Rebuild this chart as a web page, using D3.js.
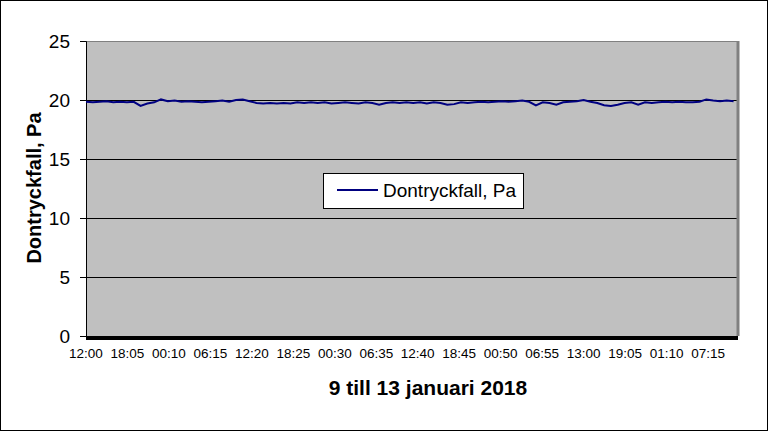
<!DOCTYPE html>
<html><head><meta charset="utf-8">
<script src="https://cdn.jsdelivr.net/npm/d3@7"></script>
<style>body{margin:0;background:#fff}svg{display:block;font-family:"Liberation Sans",Arial,sans-serif}</style>
</head><body><svg id="c" width="768" height="431"></svg>
<script>
// hourly readings from 9 Jan 2018 12:00
const startTime = new Date(2018,0,9,12,0);
const endTime = new Date(2018,0,13,11,30);
const values = [19.85,19.8,19.85,19.9,19.8,19.85,19.8,19.85,
 19.5,
 19.7,19.8,20.05,19.9,19.95,19.85,19.9,19.85,19.8,19.85,19.9,19.95,19.85,20.0,20.05,
 19.9,19.75,19.7,19.75,19.7,19.75,19.7,19.8,19.75,19.8,
 19.75,19.8,19.7,19.75,19.8,19.75,19.7,19.8,19.75,19.6,
 19.75,19.8,19.75,19.8,19.75,19.8,19.7,19.8,19.75,
 19.6,19.65,
 19.8,19.75,19.8,19.85,19.8,19.85,
 19.9,19.85,19.9,19.95,19.85,
 19.55,19.8,19.75,19.6,19.8,19.85,19.9,20.0,19.85,19.75,
 19.55,19.5,19.6,19.75,19.8,19.6,19.8,19.75,
 19.8,19.85,19.8,19.85,19.8,19.8,19.85,
 20.05,19.95,19.9,19.95,19.9];
const tickLabels = ["12:00","18:05","00:10","06:15","12:20","18:25","00:30","06:35","12:40","18:45","00:50","06:55","13:00","19:05","01:10","07:15"];
const tickStepMinutes = 365;
const yTicks = [0,5,10,15,20,25];
const seriesName = "Dontryckfall, Pa";
const xTitle = "9 till 13 januari 2018";

const svg = d3.select("#c");
const L=86,R=737,T=41,B=336;
const x = d3.scaleTime().domain([startTime,endTime]).range([L,R]);
const y = d3.scaleLinear().domain([0,25]).range([B,T]);
const data = values.map((v,i)=>({t:new Date(startTime.getTime()+i*3600e3),v}));
const tickDates = tickLabels.map((s,i)=>new Date(startTime.getTime()+i*tickStepMinutes*60e3));

svg.append("rect").attr("x",0.5).attr("y",0.5).attr("width",767).attr("height",430).attr("fill","#fff").attr("stroke","#000");
svg.append("rect").attr("x",L).attr("y",T).attr("width",R-L).attr("height",B-T).attr("fill","#c0c0c0");
// gridlines
svg.append("g").selectAll("line").data(yTicks.filter(d=>d>0&&d<25)).join("line")
 .attr("x1",L).attr("x2",R).attr("y1",d=>Math.round(y(d))+0.5).attr("y2",d=>Math.round(y(d))+0.5)
 .attr("stroke","#000").attr("stroke-width",1);
svg.append("line").attr("x1",L).attr("x2",R).attr("y1",T+0.5).attr("y2",T+0.5).attr("stroke","#808080");
svg.append("line").attr("x1",R+1).attr("x2",R+1).attr("y1",T).attr("y2",B).attr("stroke","#808080").attr("stroke-width",3);

// y axis
const ya = svg.append("g").attr("transform",`translate(${L},0)`)
 .call(d3.axisLeft(y).tickValues(yTicks).tickSize(6).tickPadding(10));
ya.select(".domain").attr("stroke","#000");
ya.selectAll("text").attr("font-size",19).attr("fill","#000").attr("font-family","Liberation Sans, Arial, sans-serif");
ya.selectAll(".tick line").attr("stroke","#000");

// line
svg.append("path").datum(data).attr("fill","none").attr("stroke","#000080").attr("stroke-width",2)
 .attr("d",d3.line().x(d=>x(d.t)).y(d=>y(d.v)));

// bottom thick axis
svg.append("line").attr("x1",L).attr("x2",R+1).attr("y1",B+2).attr("y2",B+2).attr("stroke","#000").attr("stroke-width",4);

// x tick labels
svg.append("g").selectAll("text").data(tickDates).join("text")
 .attr("x",d=>x(d)).attr("y",358).attr("text-anchor","middle").attr("font-size",13.5).attr("fill","#000")
 .text((d,i)=>tickLabels[i]);

// titles
svg.append("text").attr("x",428).attr("y",395).attr("text-anchor","middle").attr("font-size",21).attr("font-weight","bold").text(xTitle);
svg.append("text").attr("transform","translate(41,188) rotate(-90)").attr("text-anchor","middle").attr("font-size",20).attr("font-weight","bold").text(seriesName);

// legend
const lg = svg.append("g");
lg.append("rect").attr("x",323.5).attr("y",173.5).attr("width",200).attr("height",35).attr("fill","#fff").attr("stroke","#000");
lg.append("line").attr("x1",337).attr("x2",378).attr("y1",190).attr("y2",190).attr("stroke","#000080").attr("stroke-width",2);
lg.append("text").attr("x",383).attr("y",197).attr("font-size",19).attr("fill","#000").text(seriesName);
</script></body></html>
